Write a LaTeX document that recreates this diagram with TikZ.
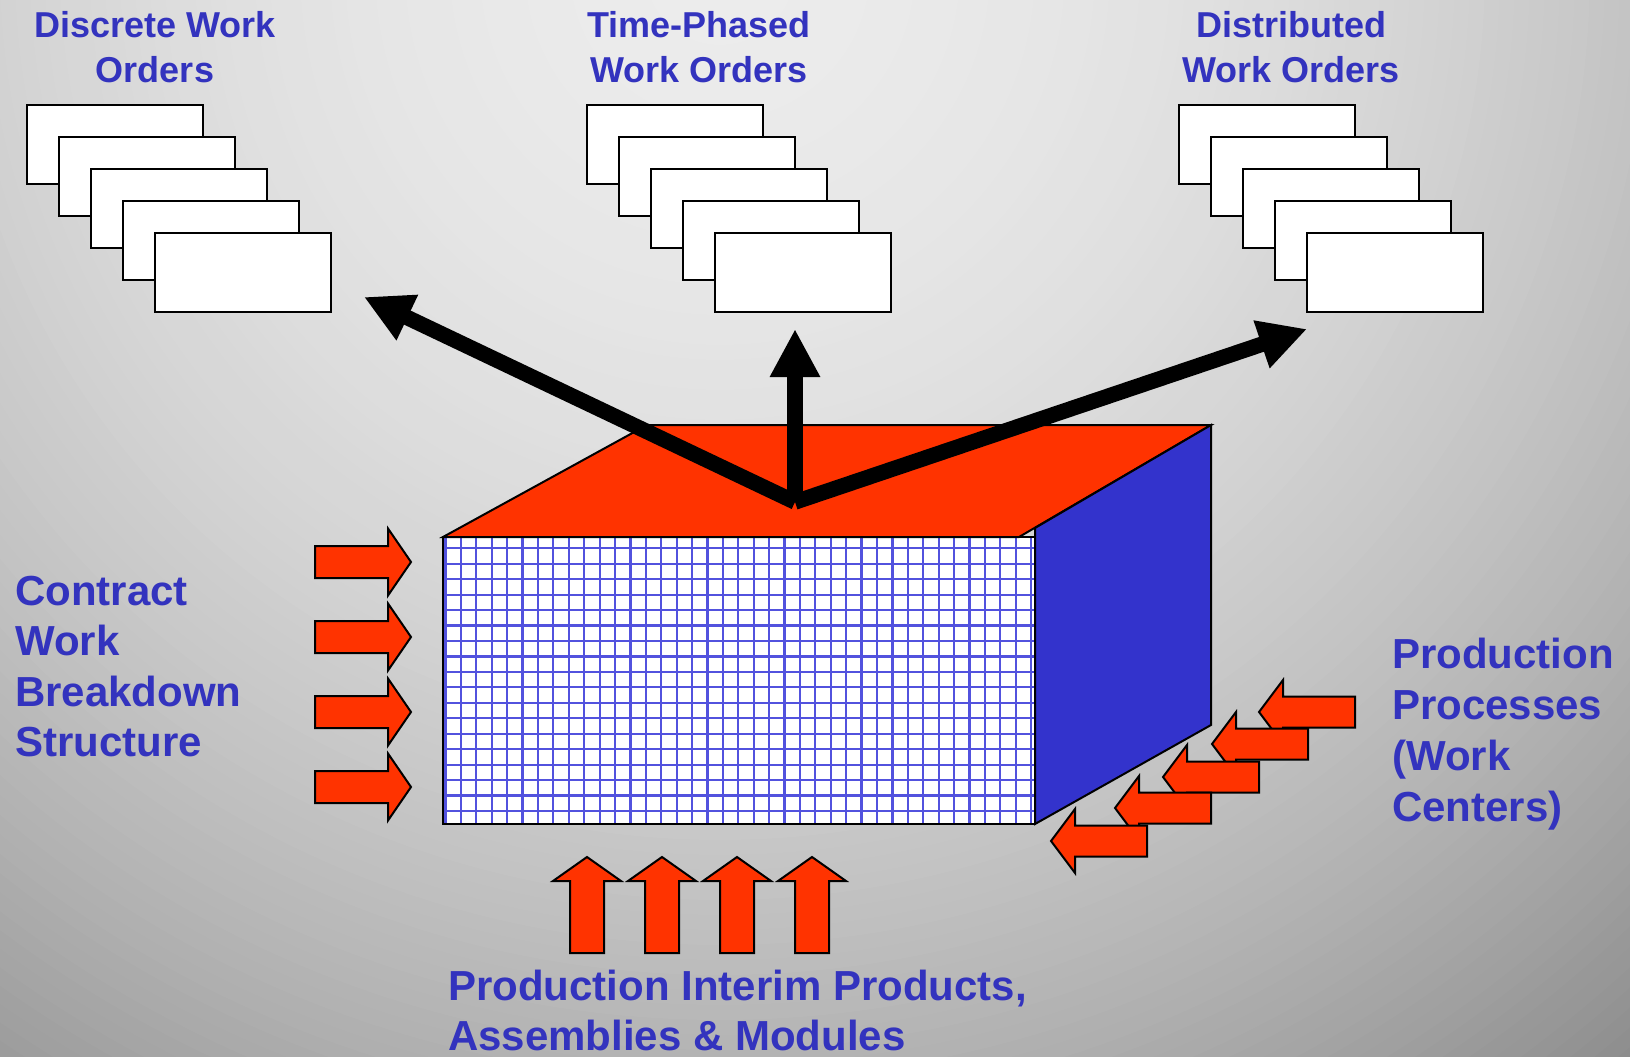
\documentclass[tikz,border=0pt]{standalone}
\usepackage{fontspec}
\setmainfont{Liberation Sans}
\usetikzlibrary{arrows.meta}

\definecolor{orderred}{RGB}{255,51,0}
\definecolor{sideblue}{RGB}{51,51,204}
\definecolor{labelblue}{RGB}{51,51,190}
\definecolor{gridblue}{RGB}{82,82,222}

\begin{document}
\begin{tikzpicture}[x=1pt,y=-1pt,
  orderbox/.style={draw=black, line width=2pt, fill=white, anchor=north west,
    minimum width=176pt, minimum height=79pt, inner sep=0pt, outer sep=0pt},
  edge/.style={draw=black, line width=2pt, line join=miter},
  gridline/.style={draw=gridblue, line width=2.2pt},
  bigarrow/.style={draw=black, line width=15.5pt,
    -{Triangle[width=47pt,length=48pt]}},
  blockarrow/.style={fill=orderred, draw=black, line width=2pt, line join=miter},
  title/.style={font=\fontsize{36}{45}\selectfont\bfseries, text=labelblue,
    align=center, inner sep=0pt, anchor=base},
  sidelabel/.style={font=\fontsize{42}{50.5}\selectfont\bfseries, text=labelblue,
    align=left, inner sep=0pt, anchor=base west}]

\useasboundingbox (0,0) rectangle (1630,1057);

% backdrop: grey rings, lightest near the top middle
\begin{scope}
  \clip (0,0) rectangle (1630,1057);
  \foreach \i in {100,99,...,1}{
    \pgfmathsetmacro{\dd}{0.15*\i}
    \pgfmathtruncatemacro{\g}{round(236-0.309*\dd-0.4457*\dd*\dd)}
    \definecolor{bgstep}{RGB}{\g,\g,\g}
    \fill[bgstep] (720,-30) circle[radius=15*\i pt];
  }
\end{scope}

% three stacks of work orders
\foreach \sx/\nm in {27/dwo, 587/two, 1179/xwo}{
  \foreach \k in {0,...,4}{
    \node[orderbox] (\nm\k) at ({\sx+32*\k},{105+32*\k}) {};
  }
}

% front face: the gridded matrix
\fill[white] (443,537) rectangle (1035,824);
\begin{scope}
  \clip (443,537) rectangle (1035,824);
  \foreach \i in {0,...,38}
    \draw[gridline] ({445.5+15.41*\i},537) -- ++(0,287);
  \foreach \j in {0,...,17}
    \draw[gridline] (443,{548.3+15.45*\j}) -- ++(592,0);
\end{scope}
\draw[edge] (443,537) rectangle (1035,824);

% top and side faces
\filldraw[edge, fill=orderred] (443,537) -- (647,425) -- (1211,425) -- (1019,537) -- cycle;
\filldraw[edge, fill=sideblue] (1035,528) -- (1211,425) -- (1211,725) -- (1035,824) -- cycle;

% outputs to the three kinds of work orders
\coordinate (hub) at (795,502);
\coordinate (toDiscrete) at (364,297);
\coordinate (toPhased) at (795,329);
\coordinate (toDistributed) at (1307,329);
\draw[bigarrow] (hub) -- (toDiscrete);
\draw[bigarrow] (hub) -- (toPhased);
\draw[bigarrow] (hub) -- (toDistributed);

% inputs from the work breakdown structure
\foreach \c in {562,637,712,787}
  \draw[blockarrow] (315,\c-16) -- (388,\c-16) -- (388,\c-33.5) -- (411,\c)
    -- (388,\c+33.5) -- (388,\c+16) -- (315,\c+16) -- cycle;

% inputs from interim products
\foreach \c in {587,662,737,812}
  \draw[blockarrow] (\c-17,953) -- (\c-17,881) -- (\c-34,881) -- (\c,857)
    -- (\c+34,881) -- (\c+17,881) -- (\c+17,953) -- cycle;

% inputs from production processes
\foreach \tx/\ty in {1259/712, 1212/744, 1163/777, 1115/808, 1051/841}
  \draw[blockarrow] (\tx,\ty) -- (\tx+24,\ty-32) -- (\tx+24,\ty-15.5)
    -- (\tx+96,\ty-15.5) -- (\tx+96,\ty+15.5) -- (\tx+24,\ty+15.5)
    -- (\tx+24,\ty+32) -- cycle;

% labels (base anchor sits on the last line)
\node[title] (tDiscrete) at (155,82) {Discrete Work\\Orders};
\node[title] (tPhased) at (699,82) {Time-Phased\\Work Orders};
\node[title] (tDistributed) at (1291,82) {Distributed\\Work Orders};
\node[sidelabel] (lWbs) at (15,756.5) {Contract\\Work\\Breakdown\\Structure};
\node[sidelabel, font=\fontsize{42}{51}\selectfont\bfseries] (lProc) at (1392,821)
  {Production\\Processes\\(Work\\Centers)};
\node[sidelabel, font=\fontsize{42}{50}\selectfont\bfseries] (lInterim) at (448,1050)
  {Production Interim Products,\\Assemblies \& Modules};
\end{tikzpicture}
\end{document}
